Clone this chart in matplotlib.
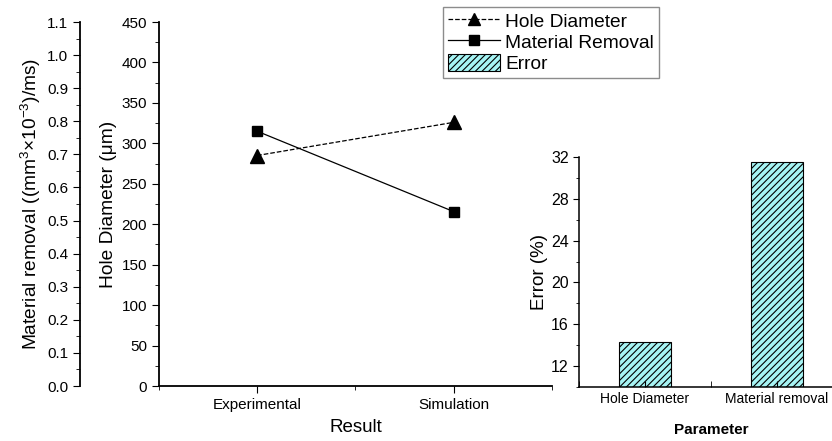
import numpy as np
import matplotlib
matplotlib.use('Agg')
import matplotlib.pyplot as plt
from matplotlib.lines import Line2D
from matplotlib.patches import Patch
from matplotlib.ticker import MultipleLocator

plt.rcParams['font.family'] = ['Liberation Sans', 'DejaVu Sans']
plt.rcParams['mathtext.fontset'] = 'custom'
plt.rcParams['mathtext.rm'] = 'Liberation Sans'
plt.rcParams['mathtext.it'] = 'Liberation Sans:italic'
plt.rcParams['hatch.linewidth'] = 0.8

# Data
results = ['Experimental', 'Simulation']
hole_diameter = [285, 326]          # um
material_removal = [0.77, 0.527]    # (mm3 x 1e-3)/ms
params = ['Hole Diameter', 'Material removal']
error_pct = [14.3, 31.5]

bar_color = '#a6f4f4'

fig = plt.figure(figsize=(8.32, 4.41), dpi=100)

# main axes: hole diameter
ax = fig.add_axes([0.191, 0.1247, 0.4725, 0.8253])
x = np.arange(len(results))
ax.plot(x, hole_diameter, color='black', linestyle='--', linewidth=0.9,
        marker='^', markersize=9.5)
ax.set_xlim(-0.5, 1.5)
ax.set_ylim(0, 450)
ax.set_xticks(x)
ax.set_xticklabels(results, fontsize=11.2)
ax.xaxis.set_minor_locator(MultipleLocator(0.5))
ax.yaxis.set_major_locator(MultipleLocator(50))
ax.yaxis.set_minor_locator(MultipleLocator(25))
ax.tick_params(axis='both', which='major', direction='out', length=5, labelsize=11)
ax.tick_params(axis='both', which='minor', direction='out', length=3)
ax.spines['top'].set_visible(False)
ax.spines['right'].set_visible(False)
ax.spines['left'].set_linewidth(1.3)
ax.spines['bottom'].set_linewidth(1.3)
ax.set_ylabel('Hole Diameter (\u03bcm)', fontsize=13.8, labelpad=3)
ax.set_xlabel('Result', fontsize=13.5, labelpad=5)

# outer left axis: material removal
ax2 = ax.twinx()
ax2.plot(x, material_removal, color='black', linestyle='-', linewidth=0.9,
         marker='s', markersize=7.5)
ax2.set_ylim(0, 1.1)
ax2.spines['left'].set_position(('axes', -0.201))
ax2.spines['left'].set_visible(True)
ax2.spines['left'].set_linewidth(1.3)
ax2.spines['right'].set_visible(False)
ax2.spines['top'].set_visible(False)
ax2.spines['bottom'].set_visible(False)
ax2.yaxis.set_ticks_position('left')
ax2.yaxis.set_label_position('left')
ax2.yaxis.set_major_locator(MultipleLocator(0.1))
ax2.yaxis.set_minor_locator(MultipleLocator(0.05))
ax2.tick_params(axis='y', which='major', direction='out', length=5, labelsize=11)
ax2.tick_params(axis='y', which='minor', direction='out', length=3)
ax2.set_ylabel('Material removal ((mm$^{3}$\u00d710$^{-3}$)/ms)', fontsize=13.8, labelpad=3)

# inset: error bars
axi = fig.add_axes([0.696, 0.1224, 0.317, 0.5216])
xb = np.arange(len(params))
axi.bar(xb, error_pct, width=0.4, color=bar_color, edgecolor='black',
        linewidth=0.8, hatch='/////')
axi.set_xlim(-0.5, 1.5)
axi.set_ylim(10, 32)
axi.set_xticks(xb)
axi.set_xticklabels(params, fontsize=10)
axi.xaxis.set_minor_locator(MultipleLocator(0.5))
axi.set_yticks([12, 16, 20, 24, 28, 32])
axi.yaxis.set_minor_locator(MultipleLocator(2))
axi.tick_params(axis='x', which='both', direction='in', length=4)
axi.tick_params(axis='y', which='major', direction='out', length=4, labelsize=11.5)
axi.tick_params(axis='y', which='minor', direction='out', length=2.5)
axi.spines['top'].set_visible(False)
axi.spines['right'].set_visible(False)
axi.spines['left'].set_linewidth(1.1)
axi.spines['bottom'].set_linewidth(1.1)
axi.set_ylabel('Error (%)', fontsize=13.5, labelpad=2)
axi.set_xlabel('Parameter', fontsize=11, fontweight='bold', labelpad=12)

handles = [
    Line2D([0], [0], color='black', linestyle='--', linewidth=0.9, marker='^', markersize=8),
    Line2D([0], [0], color='black', linestyle='-', linewidth=0.9, marker='s', markersize=7),
    Patch(facecolor=bar_color, edgecolor='black', hatch='/////', linewidth=0.8),
]
fig.legend(handles, ['Hole Diameter', 'Material Removal', 'Error'],
           loc='upper left', bbox_to_anchor=(443 / 832, 1 - 7 / 441),
           fontsize=13.8, frameon=True, fancybox=False, edgecolor='#707070',
           handlelength=2.7, handleheight=1.0, handletextpad=0.3,
           labelspacing=0.1, borderpad=0.25, borderaxespad=0)

fig.savefig('out.png', dpi=100)
